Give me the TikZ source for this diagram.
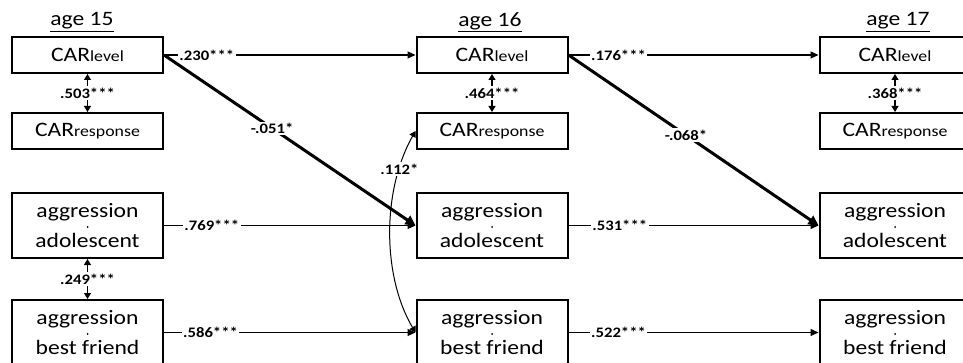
\documentclass[tikz,border=0pt]{standalone}
\usepackage{fontspec}
\setmainfont{Carlito}[FakeStretch=1.15]
\usetikzlibrary{arrows.meta}
\begin{document}
\begin{tikzpicture}[x=1pt,y=-1pt,
 box/.style={draw, line width=2pt, minimum width=151pt, inner sep=0pt, align=center},
 carbox/.style={box, minimum height=36pt, font=\fontsize{20.5}{24}\selectfont},
 aggbox/.style={box, minimum height=65pt, font=\fontsize{20.5}{30}\selectfont},
 agelab/.style={font=\fontsize{20.5}{24}\selectfont, inner sep=0pt},
 coef/.style={font=\bfseries\fontsize{14.5}{16}\selectfont, fill=white, inner sep=1.5pt},
 path1/.style={line width=1.2pt, -{Triangle[length=8pt,width=7pt]}},
 path2/.style={line width=3pt, -{Triangle[length=10pt,width=10pt]}},
 cor/.style={line width=1.2pt, {Triangle[length=6pt,width=7pt]}-{Triangle[length=6pt,width=7pt]}},
]
\useasboundingbox (0,0) rectangle (963,363);
\clip (0,0) rectangle (963,363);
\newcommand{\subtxt}[1]{{\fontsize{15.5}{15.5}\selectfont #1}}
% age 15
\node[agelab] (age15) at (82,22) {\underline{age 15}};
\node[carbox] (cl15) at (87.5,55) {CAR\subtxt{level}};
\node[carbox] (cr15) at (87.5,131) {CAR\subtxt{response}};
\node[aggbox] (aa15) at (87.5,225.5) {aggression\\adolescent};
\node[aggbox] (ab15) at (87.5,332.5) {aggression\\best friend};
% age 16
\node[agelab] (age16) at (490,22) {\underline{age 16}};
\node[carbox] (cl16) at (492,55) {CAR\subtxt{level}};
\node[carbox] (cr16) at (492,131) {CAR\subtxt{response}};
\node[aggbox] (aa16) at (492,225.5) {aggression\\adolescent};
\node[aggbox] (ab16) at (492,332.5) {aggression\\best friend};
% age 17
\node[agelab] (age17) at (898,22) {\underline{age 17}};
\node[carbox] (cl17) at (895,55) {CAR\subtxt{level}};
\node[carbox] (cr17) at (895,131) {CAR\subtxt{response}};
\node[aggbox] (aa17) at (895,225.5) {aggression\\adolescent};
\node[aggbox] (ab17) at (895,332.5) {aggression\\best friend};
% dots
\foreach \n in {aa15,ab15,aa16,ab16,aa17,ab17}{\fill (\n.center) ++(0,1.5) circle (1pt);}
% correlations
\draw[cor] (cl15) -- node[coef]{.503***} (cr15);
\draw[cor] (cl16) -- node[coef]{.464***} (cr16);
\draw[cor] (cl17) -- node[coef]{.368***} (cr17);
\draw[cor] (aa15) -- node[coef]{.249***} (ab15);
% stability paths
\draw[path1] (cl15) -- node[coef,pos=0.17]{.230***} (cl16);
\draw[path1] (aa15) -- node[coef,pos=0.19]{.769***} (aa16);
\draw[path1] (ab15) -- node[coef,pos=0.185]{.586***} (ab16);
\draw[path1] (cl16) -- node[coef,pos=0.2]{.176***} (cl17);
\draw[path1] (aa16) -- node[coef,pos=0.205]{.531***} (aa17);
\draw[path1] (ab16) -- node[coef,pos=0.2]{.522***} (ab17);
% cross-lagged
\draw[path2] (cl15.east) -- node[coef,pos=0.43]{-.051*} (aa16.west);
\draw[path2] (cl16.east) -- node[coef,pos=0.47]{-.068*} (aa17.west);
% curved correlation
\draw[cor, line width=1pt] (ab16.west) .. controls (382,276) and (382,190) .. node[coef,pos=0.8]{.112*} (cr16.west);
\end{tikzpicture}
\end{document}
